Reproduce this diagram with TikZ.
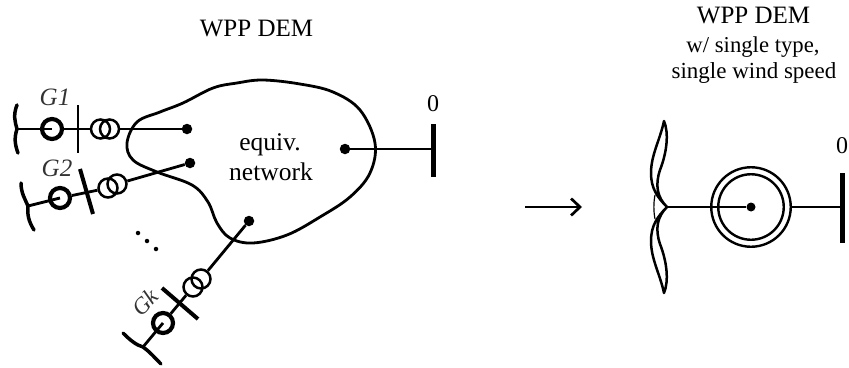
\documentclass[tikz,border=0pt]{standalone}
\usepackage{fontspec}
\setmainfont{Liberation Serif}
\usetikzlibrary{arrows.meta}
\tikzset{
 wire/.style={line width=2.8pt,black},
 gen/.style={circle,draw,line width=4.2pt,minimum size=20pt,inner sep=0pt},
 xf/.style={circle,draw,line width=2.5pt,minimum size=19pt,inner sep=0pt},
 dotn/.style={circle,fill,minimum size=10.5pt,inner sep=0pt},
 smalld/.style={circle,fill,minimum size=4.5pt,inner sep=0pt},
 lab/.style={font=\fontsize{#1}{24}\selectfont,inner sep=0pt,anchor=base},
 lab/.default=24,
 glab/.style={font=\fontsize{25}{24}\selectfont\itshape,inner sep=0pt,text=black!80},
 blade/.style={line width=3.5pt,line cap=round},
 fblade/.style={line width=2.5pt,line join=round},
}
\begin{document}
\begin{tikzpicture}[x=1pt,y=-1pt,line cap=butt]
\useasboundingbox (0,0) rectangle (849,367);
\node[lab=25] at (256.5,36) {WPP DEM};
\node[lab=25] at (753.5,23) {WPP DEM};
\node[lab=22.7] at (753,52) {w/ single type,};
\node[lab=23] at (754,78) {single wind speed};
\node[lab] at (433,111) {0};
\node[lab] at (842,153) {0};
\node[lab=25.5] (eq) at (270,150) {equiv.};
\node[lab=25.5] (nw) at (271,180) {network};
% blob
\draw[wire] plot[smooth cycle,tension=0.6] coordinates {(127,143)(137,122)(160,112)(183,103)(213,88)(237,83)(263,80)(300,84)(333,92)(360,110)(375,143)(370,173)(350,197)(320,217)(287,235)(253,243)(230,238)(217,223)(208,202)(192,185)(157,172)(133,160)};
% G1
\coordinate (h1) at (17,129);
\node[gen] (g1) at (52,129) {};
\node[xf] (x1a) at (100.5,129) {};
\node[xf] (x1b) at (109.5,129) {};
\node[dotn] (d1) at (187,129) {};
\coordinate (b1a) at (78,105); \coordinate (b1b) at (78,153);
\draw[wire] (h1) -- (g1.center);
\draw[wire] (g1) -- (x1a);
\draw[wire] (x1b) -- (d1);
\draw[line width=2.8pt] (b1a) -- (b1b);
\draw[blade] (17,105) .. controls (13,115) and (15,122) .. (h1) .. controls (14,138) and (15,145) .. (18,153);
\node[glab] at (55,97) {G1};
% G2
\coordinate (h2) at (28,206);
\node[gen] (g2) at (60,198) {};
\node[xf] (x2a) at (108,188) {};
\node[xf] (x2b) at (117,184) {};
\node[dotn] (d2) at (190,163) {};
\coordinate (b2a) at (80,169); \coordinate (b2b) at (93,214);
\draw[wire] (h2) -- (g2.center);
\draw[wire] (g2) -- (x2a);
\draw[wire] (x2b) -- (d2);
\draw[line width=4pt] (b2a) -- (b2b);
\draw[blade] (21,183) .. controls (21,193) and (25,199) .. (h2) .. controls (27,215) and (29,222) .. (34,230);
\node[glab] at (57,168) {G2};
% Gk
\coordinate (hk) at (143,347);
\node[gen] (gk) at (163,323) {};
\node[xf] (xka) at (193,287) {};
\node[xf] (xkb) at (201,279) {};
\node[dotn] (dk) at (249,221) {};
\coordinate (bka) at (162,288); \coordinate (bkb) at (198,319);
\draw[wire] (hk) -- (gk.center);
\draw[wire] (gk) -- (xka);
\draw[wire] (xkb) -- (dk);
\draw[line width=4pt] (bka) -- (bkb);
\draw[blade] (123,333) .. controls (130,340) and (136,345) .. (hk) .. controls (150,352) and (155,358) .. (161,364);
\node[glab,rotate=45,font=\fontsize{23}{24}\selectfont\itshape] at (145,302) {Gk};
\node[smalld] at (138,233) {};
\node[smalld] at (147,241) {};
\node[smalld] at (156,249) {};
% bus 0 left
\node[dotn] (d0) at (345,149) {};
\coordinate (b0) at (433,149);
\draw[wire] (d0) -- (b0);
\draw[line width=5pt] (433,124) -- (433,177);
% arrow
\coordinate (aa) at (525,207); \coordinate (ab) at (582,207);
\draw[line width=2.7pt,-{Straight Barb[length=9pt,width=17pt,line width=2.7pt]}] (aa) -- (ab);
% right
\coordinate (hr) at (667,207);
\node[dotn,minimum size=9pt] (dr) at (751,207) {};
\node[circle,draw,line width=2.4pt,minimum size=79.5pt,inner sep=0pt] (co) at (751,207) {};
\node[circle,draw,line width=2.4pt,minimum size=65.5pt,inner sep=0pt] (ci) at (751,207) {};
\coordinate (br) at (842,207);
\draw[wire] (hr) -- (dr);
\draw[wire] (co) -- (br);
\draw[line width=5pt] (br |- 0,173) -- (br |- 0,243);
\draw[fblade] (hr) .. controls (657,197) and (651,188) .. (651,173) .. controls (651,155) and (660,140) .. (664,121) .. controls (669,133) and (667,152) .. (660,170) .. controls (655,185) and (657,197) .. (hr);
\draw[fblade] (hr) .. controls (657,217) and (651,226) .. (651,241) .. controls (651,259) and (660,274) .. (664,293) .. controls (669,281) and (667,262) .. (660,244) .. controls (655,229) and (657,217) .. (hr);
\draw[line width=1.2pt] (655,195) .. controls (653.5,203) and (653.5,211) .. (655,219);
\end{tikzpicture}
\end{document}
